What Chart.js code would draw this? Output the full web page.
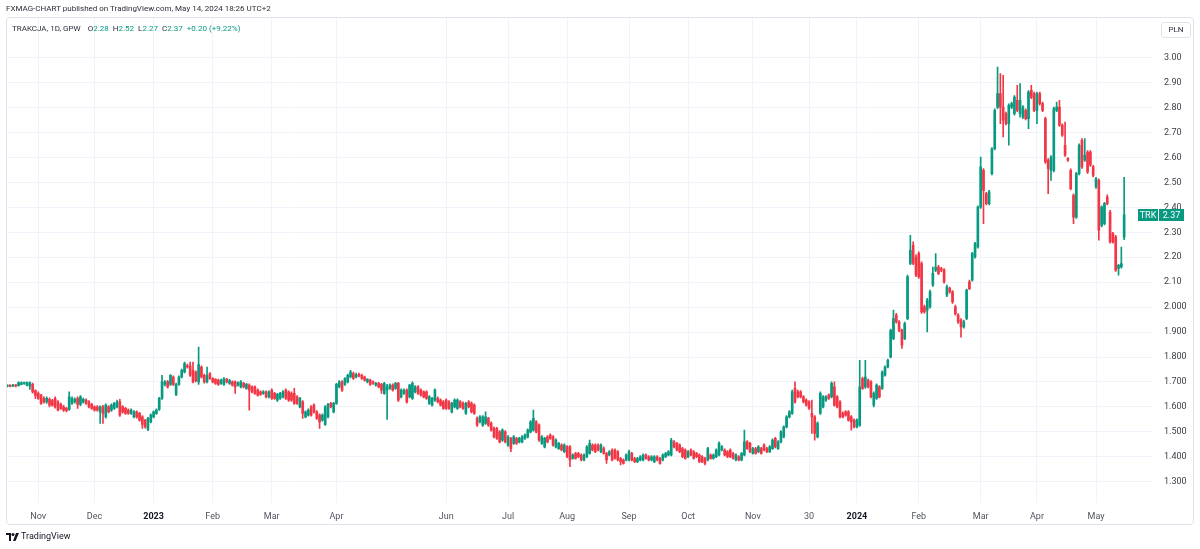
<!DOCTYPE html>
<html>
<head>
<meta charset="utf-8">
<script src="https://cdn.jsdelivr.net/npm/chart.js@4.4.0/dist/chart.umd.min.js"></script>
<style>
html, body { margin: 0; padding: 0; background: #fff; }
#wrap { position: relative; width: 1200px; height: 549px; overflow: hidden; font-family: Roboto, "Liberation Sans", sans-serif; color: #131722; }
#chart { position: absolute; left: 0; top: 0; }
#frame { position: absolute; left: 6px; top: 17px; width: 1188px; height: 508px; border: 1px solid #e0e3eb; border-radius: 4px; box-sizing: border-box; pointer-events: none; }
#published { position: absolute; left: 6px; top: 4px; font-size: 8px; color: #2a2e39; white-space: nowrap; }
#legend { position: absolute; left: 12px; top: 24px; font-size: 8px; color: #2a2e39; white-space: nowrap; }
#legend .v { color: #089981; margin-right: 4px; }
#legend .sym { margin-right: 5px; }
#currency { position: absolute; left: 1161px; top: 22px; width: 30px; height: 16px; border: 1px solid #e0e3eb; border-radius: 3px; box-sizing: border-box; font-size: 8px; line-height: 14px; text-align: center; color: #2a2e39; }
#logo { position: absolute; left: 6px; top: 531px; height: 12px; white-space: nowrap; }
#logo svg { position: absolute; left: 0; top: 2px; }
#logo span { position: absolute; left: 15px; top: 0; font-size: 9px; color: #131722; }
</style>
</head>
<body>
<div id="wrap">
  <canvas id="chart" width="1200" height="549"></canvas>
  <div id="frame"></div>
  <div id="published">FXMAG-CHART published on TradingView.com, May 14, 2024 18:26 UTC+2</div>
  <div id="legend"><span class="sym">TRAKCJA, 1D, GPW</span> O<span class="v">2.28</span>H<span class="v">2.52</span>L<span class="v">2.27</span>C<span class="v">2.37</span><span class="v">+0.20 (+9.22%)</span></div>
  <div id="currency">PLN</div>
  <div id="logo">
    <svg width="13" height="8" viewBox="0 0 13 8"><path d="M0 0h5v8H3V2H0z" fill="#131722"/><circle cx="7" cy="1.5" r="1.5" fill="#131722"/><path d="M10 0h3L9.5 8H7z" fill="#131722"/></svg>
    <span>TradingView</span>
  </div>
</div>
<script>
const ticker = 'TRK';
const upColor = '#089981';
const downColor = '#f23645';

// daily candles, Oct 2022 .. 14 May 2024
const opens = [
  1.683,1.684,1.683,1.686,1.685,1.690,1.694,1.686,1.683,1.690,
  1.665,1.654,1.647,1.634,1.620,1.630,1.625,1.634,1.620,1.610,
  1.600,1.594,1.590,1.615,1.620,1.634,1.610,1.620,1.627,1.620,
  1.610,1.600,1.600,1.580,1.600,1.560,1.600,1.587,1.594,1.600,
  1.620,1.600,1.594,1.587,1.574,1.560,1.580,1.574,1.560,1.547,
  1.510,1.540,1.560,1.574,1.590,1.634,1.690,1.700,1.690,1.720,
  1.650,1.690,1.720,1.740,1.765,1.765,1.747,1.740,1.700,
  1.760,1.727,1.700,1.734,1.714,1.710,1.707,1.694,1.690,1.710,
  1.694,1.700,1.700,1.687,1.680,1.694,1.674,1.687,1.680,1.680,
  1.667,1.660,1.654,1.660,1.640,1.667,1.654,1.627,1.634,1.640,
  1.667,1.660,1.654,1.654,1.640,1.600,1.620,1.560,1.567,1.600,
  1.607,1.580,1.567,1.547,1.530,1.560,1.614,1.580,1.614,1.680,
  1.700,1.690,1.700,1.720,1.734,1.720,1.730,1.727,1.720,1.700,
  1.707,1.700,1.687,1.694,1.690,1.654,1.667,1.674,1.687,1.674,
  1.694,1.640,
  1.654,1.667,1.640,1.634,1.660,1.680,1.667,1.660,1.660,1.614,
  1.607,1.627,1.634,1.627,1.620,1.627,1.620,1.580,1.600,1.594,
  1.620,1.614,1.574,1.620,1.614,1.607,1.554,1.540,1.527,1.534,
  1.554,1.534,1.514,1.514,1.500,1.467,1.500,1.447,1.474,1.454,
  1.474,1.460,1.460,1.474,1.480,1.500,1.507,1.540,1.527,1.454,
  1.440,1.480,1.487,1.480,1.440,1.433,1.447,1.420,1.440,1.440,
  1.393,1.413,1.413,1.407,1.387,1.400,1.413,1.447,1.447,1.447,
  1.420,
  1.433,1.413,1.407,1.427,1.427,1.420,1.393,1.387,1.387,1.387,
  1.413,1.393,1.380,1.387,1.387,1.407,1.400,1.387,1.380,1.400,
  1.393,1.387,1.400,1.407,1.407,1.460,1.454,1.447,1.433,1.427,
  1.400,1.427,1.420,1.413,1.407,1.400,1.393,1.387,1.407,1.393,
  1.400,1.407,1.427,1.427,1.420,1.427,1.413,1.387,1.400,1.387,
  1.407,1.460,1.454,1.413,1.433,1.420,1.433,1.447,1.433,1.420,
  1.433,1.474,1.433,1.460,
  1.480,1.520,1.560,1.574,1.674,1.660,1.660,1.640,1.627,1.620,
  1.574,1.560,1.480,1.574,1.600,1.627,1.647,1.640,1.680,1.640,
  1.620,1.574,1.580,1.580,1.560,1.547,1.520,1.527,1.714,1.680,
  1.707,1.700,1.607,1.634,1.680,1.674,1.727,1.760,1.800,1.874,
  1.968,1.941,1.907,1.874,1.954,2.175,2.248,2.201,2.215,2.175,
  2.001,1.988,2.001,2.088,2.148,2.161,2.155,2.148,2.048,2.075,
  2.061,2.001,1.968,1.948,1.921,
  1.955,2.101,2.108,2.201,2.241,2.401,2.548,2.455,2.415,2.535,
  2.635,2.802,2.856,2.802,2.776,2.735,2.802,2.776,2.829,2.776,
  2.762,2.789,2.756,2.869,2.856,2.789,2.856,2.816,2.756,2.589,
  2.548,2.548,2.789,2.802,2.729,2.649,2.595,2.548,2.448,2.361,
  2.535,2.669,2.589,2.622,2.622,2.562,2.482,2.508,2.328,2.335,
  2.441,2.381,2.295,2.281,2.155,2.161,2.28
];

const highs = [
  1.688,1.688,1.690,1.689,1.700,1.700,1.699,1.700,1.700,1.695,
  1.668,1.660,1.650,1.640,1.640,1.636,1.630,1.640,1.625,1.615,
  1.606,1.598,1.660,1.640,1.636,1.640,1.645,1.635,1.632,1.625,
  1.614,1.604,1.605,1.604,1.606,1.612,1.605,1.612,1.618,1.627,
  1.630,1.605,1.598,1.592,1.592,1.585,1.584,1.578,1.565,1.550,
  1.558,1.572,1.584,1.592,1.638,1.727,1.705,1.706,1.730,1.725,
  1.695,1.725,1.752,1.780,1.772,1.780,1.780,1.745,1.840,
  1.765,1.732,1.760,1.738,1.718,1.714,1.712,1.712,1.718,1.715,
  1.710,1.704,1.704,1.700,1.705,1.698,1.694,1.692,1.684,1.684,
  1.672,1.664,1.665,1.664,1.664,1.672,1.658,1.654,1.658,1.665,
  1.672,1.664,1.660,1.674,1.645,1.638,1.625,1.584,1.592,1.605,
  1.612,1.585,1.572,1.572,1.605,1.614,1.618,1.618,1.694,1.705,
  1.705,1.718,1.732,1.747,1.740,1.736,1.736,1.732,1.724,1.714,
  1.712,1.704,1.698,1.698,1.694,1.698,1.690,1.692,1.692,1.698,
  1.698,1.672,
  1.672,1.672,1.690,1.700,1.685,1.685,1.672,1.664,1.664,1.645,
  1.638,1.672,1.640,1.632,1.625,1.632,1.625,1.618,1.632,1.632,
  1.625,1.620,1.618,1.625,1.620,1.612,1.560,1.565,1.565,1.580,
  1.558,1.540,1.520,1.518,1.505,1.512,1.505,1.485,1.478,1.485,
  1.478,1.478,1.485,1.492,1.512,1.545,1.587,1.545,1.532,1.485,
  1.478,1.485,1.492,1.485,1.472,1.458,1.452,1.452,1.445,1.445,
  1.412,1.418,1.418,1.412,1.412,1.445,1.467,1.452,1.452,1.452,
  1.452,
  1.440,1.418,1.425,1.432,1.432,1.425,1.398,1.392,1.412,1.427,
  1.418,1.398,1.398,1.405,1.412,1.412,1.405,1.405,1.405,1.405,
  1.398,1.412,1.418,1.425,1.474,1.465,1.458,1.452,1.438,1.432,
  1.425,1.432,1.425,1.418,1.412,1.405,1.398,1.438,1.412,1.412,
  1.432,1.460,1.445,1.432,1.425,1.432,1.418,1.412,1.405,1.418,
  1.507,1.465,1.458,1.438,1.438,1.445,1.438,1.452,1.438,1.445,
  1.472,1.478,1.465,1.505,
  1.524,1.565,1.585,1.667,1.700,1.667,1.665,1.645,1.632,1.625,
  1.627,1.565,1.540,1.660,1.645,1.645,1.652,1.700,1.700,1.645,
  1.625,1.580,1.585,1.585,1.565,1.552,1.552,1.787,1.720,1.787,
  1.712,1.705,1.660,1.692,1.685,1.745,1.765,1.792,1.912,1.988,
  1.975,1.946,1.912,1.940,2.128,2.288,2.262,2.210,2.222,2.182,
  2.008,2.035,2.068,2.161,2.215,2.168,2.160,2.155,2.088,2.080,
  2.066,2.008,1.974,1.954,1.948,
  2.072,2.108,2.220,2.260,2.406,2.602,2.555,2.460,2.468,2.640,
  2.795,2.962,2.936,2.929,2.782,2.815,2.822,2.848,2.889,2.896,
  2.808,2.795,2.868,2.889,2.862,2.862,2.862,2.822,2.762,2.595,
  2.608,2.802,2.822,2.829,2.735,2.742,2.600,2.554,2.454,2.540,
  2.655,2.676,2.676,2.628,2.628,2.568,2.520,2.514,2.406,2.420,
  2.450,2.388,2.300,2.288,2.172,2.241,2.52
];

const lows = [
  1.680,1.680,1.681,1.680,1.683,1.688,1.690,1.684,1.670,1.655,
  1.633,1.630,1.610,1.615,1.614,1.600,1.603,1.595,1.584,1.590,
  1.582,1.580,1.586,1.610,1.615,1.594,1.605,1.615,1.610,1.596,
  1.590,1.583,1.583,1.534,1.534,1.555,1.576,1.582,1.590,1.596,
  1.562,1.575,1.570,1.570,1.570,1.556,1.555,1.543,1.514,1.515,
  1.505,1.536,1.556,1.570,1.586,1.630,1.684,1.675,1.686,1.685,
  1.645,1.686,1.716,1.736,1.755,1.722,1.696,1.700,1.690,
  1.715,1.695,1.696,1.710,1.696,1.690,1.686,1.690,1.686,1.696,
  1.690,1.683,1.654,1.683,1.676,1.676,1.670,1.587,1.656,1.650,
  1.643,1.646,1.650,1.636,1.636,1.630,1.630,1.622,1.630,1.636,
  1.630,1.622,1.622,1.610,1.610,1.596,1.554,1.556,1.563,1.563,
  1.575,1.550,1.514,1.543,1.526,1.556,1.596,1.576,1.610,1.676,
  1.662,1.686,1.696,1.716,1.710,1.716,1.720,1.710,1.703,1.696,
  1.686,1.690,1.683,1.676,1.654,1.650,1.550,1.670,1.663,1.670,
  1.622,1.636,
  1.650,1.615,1.636,1.630,1.656,1.650,1.643,1.636,1.630,1.610,
  1.603,1.622,1.616,1.603,1.590,1.590,1.590,1.576,1.596,1.590,
  1.596,1.590,1.570,1.596,1.576,1.570,1.522,1.536,1.522,1.530,
  1.522,1.503,1.476,1.470,1.456,1.462,1.456,1.442,1.420,1.450,
  1.450,1.456,1.456,1.470,1.476,1.496,1.503,1.496,1.462,1.450,
  1.436,1.456,1.470,1.443,1.436,1.430,1.423,1.416,1.396,1.360,
  1.390,1.390,1.396,1.383,1.383,1.396,1.410,1.423,1.416,1.423,
  1.416,
  1.410,1.373,1.403,1.383,1.390,1.383,1.367,1.370,1.383,1.383,
  1.383,1.376,1.376,1.383,1.383,1.390,1.383,1.383,1.376,1.383,
  1.370,1.383,1.396,1.403,1.403,1.436,1.423,1.416,1.396,1.390,
  1.396,1.403,1.390,1.396,1.376,1.376,1.367,1.383,1.390,1.390,
  1.396,1.403,1.423,1.403,1.396,1.396,1.390,1.383,1.383,1.383,
  1.403,1.430,1.416,1.410,1.410,1.416,1.410,1.423,1.416,1.416,
  1.430,1.436,1.430,1.456,
  1.476,1.516,1.556,1.570,1.615,1.636,1.636,1.616,1.603,1.590,
  1.494,1.467,1.476,1.570,1.596,1.622,1.630,1.636,1.603,1.596,
  1.556,1.556,1.563,1.543,1.507,1.516,1.516,1.522,1.670,1.674,
  1.676,1.636,1.600,1.630,1.636,1.670,1.723,1.756,1.796,1.870,
  1.936,1.902,1.834,1.870,1.950,2.170,2.170,2.122,2.115,1.975,
  1.976,1.901,1.996,2.083,2.142,2.130,2.142,2.096,2.042,2.056,
  2.015,1.968,1.935,1.880,1.916,
  1.950,2.070,2.104,2.196,2.236,2.396,2.335,2.410,2.410,2.530,
  2.630,2.796,2.735,2.682,2.730,2.649,2.796,2.770,2.784,2.762,
  2.756,2.750,2.715,2.836,2.784,2.735,2.810,2.784,2.576,2.455,
  2.508,2.542,2.784,2.724,2.684,2.604,2.584,2.470,2.335,2.356,
  2.530,2.556,2.584,2.536,2.564,2.522,2.476,2.268,2.322,2.330,
  2.410,2.256,2.256,2.143,2.128,2.156,2.27
];

const closes = [
  1.684,1.683,1.686,1.684,1.697,1.696,1.696,1.697,1.697,1.660,
  1.645,1.634,1.614,1.620,1.634,1.607,1.607,1.600,1.587,1.594,
  1.587,1.585,1.640,1.634,1.630,1.610,1.640,1.630,1.614,1.600,
  1.594,1.587,1.587,1.600,1.574,1.607,1.580,1.607,1.614,1.620,
  1.567,1.580,1.574,1.574,1.587,1.580,1.560,1.547,1.530,1.520,
  1.554,1.567,1.580,1.587,1.634,1.700,1.700,1.680,1.727,1.690,
  1.690,1.720,1.747,1.774,1.760,1.727,1.700,1.705,1.770,
  1.720,1.700,1.727,1.714,1.700,1.694,1.690,1.707,1.714,1.700,
  1.705,1.687,1.680,1.697,1.700,1.680,1.690,1.667,1.660,1.654,
  1.647,1.650,1.660,1.640,1.660,1.634,1.634,1.650,1.654,1.660,
  1.634,1.627,1.627,1.614,1.614,1.634,1.574,1.580,1.587,1.567,
  1.580,1.554,1.540,1.567,1.600,1.610,1.600,1.614,1.690,1.700,
  1.667,1.714,1.727,1.740,1.714,1.730,1.724,1.714,1.707,1.710,
  1.690,1.694,1.694,1.680,1.667,1.694,1.680,1.687,1.667,1.694,
  1.627,1.667,
  1.667,1.620,1.687,1.694,1.680,1.654,1.647,1.640,1.634,1.640,
  1.634,1.667,1.620,1.607,1.594,1.594,1.594,1.614,1.627,1.627,
  1.600,1.594,1.614,1.600,1.580,1.574,1.527,1.560,1.560,1.560,
  1.527,1.507,1.480,1.474,1.460,1.507,1.460,1.480,1.433,1.480,
  1.454,1.474,1.480,1.487,1.507,1.540,1.554,1.500,1.467,1.480,
  1.474,1.460,1.474,1.447,1.467,1.454,1.427,1.447,1.400,1.387,
  1.407,1.393,1.400,1.387,1.407,1.440,1.454,1.427,1.420,1.427,
  1.447,
  1.413,1.387,1.420,1.387,1.393,1.387,1.380,1.373,1.407,1.420,
  1.387,1.380,1.393,1.400,1.407,1.393,1.387,1.400,1.400,1.387,
  1.373,1.407,1.413,1.420,1.467,1.440,1.427,1.420,1.400,1.393,
  1.420,1.407,1.393,1.400,1.380,1.380,1.373,1.433,1.393,1.407,
  1.427,1.454,1.440,1.407,1.400,1.400,1.393,1.407,1.387,1.413,
  1.460,1.433,1.420,1.433,1.413,1.440,1.413,1.427,1.420,1.440,
  1.467,1.440,1.460,1.500,
  1.520,1.560,1.580,1.660,1.620,1.640,1.640,1.620,1.607,1.594,
  1.560,1.494,1.534,1.654,1.640,1.640,1.634,1.694,1.607,1.600,
  1.560,1.560,1.567,1.547,1.540,1.520,1.547,1.680,1.674,1.720,
  1.680,1.640,1.654,1.687,1.640,1.740,1.760,1.787,1.907,1.954,
  1.941,1.907,1.847,1.934,2.121,2.228,2.175,2.128,2.121,1.981,
  1.981,2.028,2.061,2.135,2.161,2.135,2.148,2.101,2.081,2.061,
  2.021,1.974,1.941,1.921,1.941,
  2.068,2.074,2.215,2.255,2.401,2.562,2.468,2.415,2.462,2.635,
  2.789,2.856,2.802,2.749,2.735,2.809,2.816,2.842,2.789,2.829,
  2.802,2.756,2.862,2.842,2.789,2.856,2.816,2.789,2.582,2.555,
  2.602,2.796,2.802,2.729,2.689,2.609,2.589,2.475,2.361,2.535,
  2.649,2.562,2.609,2.542,2.569,2.528,2.515,2.308,2.401,2.415,
  2.415,2.261,2.261,2.148,2.168,2.175,2.37
];

// time axis labels sit on these candle indexes
const timeTickIdx = [11, 31, 52, 73, 94, 117, 156, 178, 199, 221, 242, 265, 285, 302, 324, 346, 366, 387];
const timeTickLabels = ['Nov', 'Dec', '2023', 'Feb', 'Mar', 'Apr', 'Jun', 'Jul', 'Aug', 'Sep', 'Oct', 'Nov', '30', '2024', 'Feb', 'Mar', 'Apr', 'May'];
const priceTicks = [1.3, 1.4, 1.5, 1.6, 1.7, 1.8, 1.9, 2.0, 2.1, 2.2, 2.3, 2.4, 2.5, 2.6, 2.7, 2.8, 2.9, 3.0];

const bodies = opens.map((o, i) => ({ x: i, y: [o, closes[i]] }));
const wicks = lows.map((l, i) => ({ x: i, y: [l, highs[i]] }));
const candleColor = c => closes[c.dataIndex] >= opens[c.dataIndex] ? upColor : downColor;

// green tag with ticker + last price on the price scale
const lastPriceTag = {
    id: 'lastPriceTag',
    afterDraw(chart) {
        const { ctx, chartArea, scales: { y } } = chart;
        const last = closes[closes.length - 1];
        const py = Math.round(y.getPixelForValue(last));
        const x0 = chartArea.right - 14;
        ctx.save();
        ctx.fillStyle = upColor;
        ctx.fillRect(x0, py - 6, 20, 12);
        ctx.fillRect(x0 + 21, py - 6, 25, 12);
        ctx.fillStyle = '#fff';
        ctx.font = '9px Roboto';
        ctx.textAlign = 'center';
        ctx.textBaseline = 'middle';
        ctx.fillText(ticker, x0 + 10, py + 0.5);
        ctx.fillText(last.toFixed(2), x0 + 33.5, py + 0.5);
        ctx.restore();
    }
};

new Chart(document.getElementById('chart'), {
    type: 'bar',
    data: {
        datasets: [
            { label: 'body', data: bodies, backgroundColor: candleColor, barThickness: 2, minBarLength: 1, grouped: false, order: 0 },
            { label: 'wick', data: wicks, backgroundColor: candleColor, barThickness: 1, grouped: false, order: 1 }
        ]
    },
    plugins: [lastPriceTag],
    options: {
        responsive: false,
        animation: false,
        layout: { padding: { left: 6, top: 17, right: 8, bottom: 25 } },
        plugins: {
            legend: { display: false },
            tooltip: { enabled: false }
        },
        scales: {
            x: {
                type: 'linear',
                min: -0.47,
                max: 406.9,
                offset: false,
                afterBuildTicks: s => { s.ticks = timeTickIdx.map(v => ({ value: v })); },
                afterFit: s => { s.height = 21; },
                grid: { color: '#f0f3fa', drawTicks: false, offset: false },
                border: { display: false },
                ticks: {
                    padding: 8,
                    autoSkip: false,
                    maxRotation: 0,
                    callback: (v, i) => timeTickLabels[i],
                    font: c => {
                        const lbl = timeTickLabels[c.index];
                        return (lbl === '2023' || lbl === '2024')
                            ? { family: 'Roboto', size: 9, weight: 'bold' }
                            : { family: 'Roboto', size: 9 };
                    },
                    color: c => {
                        const lbl = timeTickLabels[c.index];
                        return (lbl === '2023' || lbl === '2024') ? '#131722' : '#50535e';
                    }
                }
            },
            y: {
                position: 'right',
                min: 1.2147,
                max: 3.1615,
                afterBuildTicks: s => { s.ticks = priceTicks.map(v => ({ value: v })); },
                afterFit: s => { s.width = 40; },
                grid: { color: '#f0f3fa', drawTicks: false },
                border: { display: false },
                ticks: {
                    padding: 12,
                    font: { family: 'Roboto', size: 9 },
                    color: '#3d404a',
                    callback: v => v < 2.05 ? v.toFixed(3) : v.toFixed(2)
                }
            }
        }
    }
});
</script>
</body>
</html>
